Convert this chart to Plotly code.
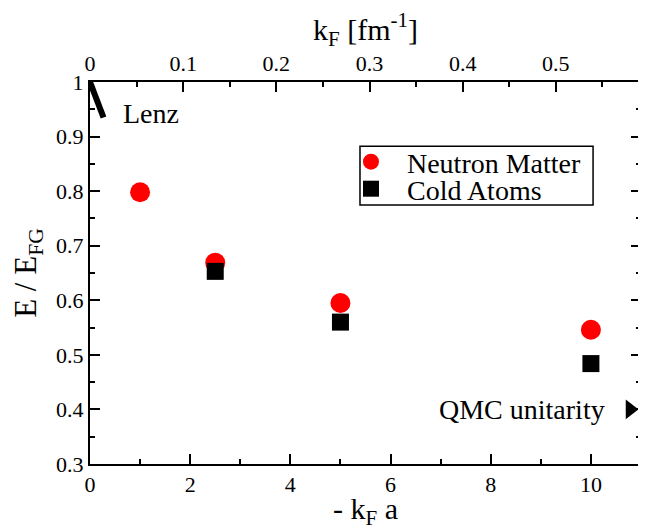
import plotly.graph_objects as go

# Data
nm_x = [1.0, 2.5, 5.0, 10.0]
nm_y = [0.798, 0.669, 0.595, 0.546]
ca_x = [2.5, 5.0, 10.0]
ca_y = [0.653, 0.560, 0.484]
lenz_x = [0.0, 0.27]
lenz_y = [1.0, 0.935]
qmc_x = [10.78]
qmc_y = [0.40]
scatt_len = 18.6  # fm, converts -kF a to kF
x_range = [0, 11]
y_range = [0.3, 1.0]

FONT = "Liberation Serif, Times New Roman, serif"
TICK = 22
TITLE = 30
LEG = 28

fig = go.Figure()
fig.add_trace(go.Scatter(x=lenz_x, y=lenz_y, mode="lines",
                         line=dict(color="black", width=6), showlegend=False))
fig.add_trace(go.Scatter(x=nm_x, y=nm_y, mode="markers", name="Neutron Matter", legend="legend",
                         marker=dict(symbol="circle", size=20, color="#ff0000")))
fig.add_trace(go.Scatter(x=ca_x, y=ca_y, mode="markers", name="Cold Atoms", legend="legend2",
                         marker=dict(symbol="square", size=17, color="black")))
fig.add_trace(go.Scatter(x=qmc_x, y=qmc_y, mode="markers", showlegend=False, cliponaxis=False,
                         marker=dict(symbol="triangle-right", size=17, color="black")))
# invisible trace for top axis
fig.add_trace(go.Scatter(x=[x_range[0] / scatt_len, x_range[1] / scatt_len], y=[None, None],
                         xaxis="x2", mode="lines", showlegend=False, hoverinfo="skip"))

axis_common = dict(showgrid=False, zeroline=False, showline=True, linecolor="black",
                   linewidth=2, ticks="inside", ticklen=10, tickwidth=2, tickcolor="black",
                   automargin=False,
                   tickfont=dict(family=FONT, size=TICK, color="black"))
minor_common = dict(ticks="inside", ticklen=5, tickwidth=2, tickcolor="black")
legend_common = dict(xanchor="left", yanchor="middle", borderwidth=0, bgcolor="rgba(0,0,0,0)",
                     font=dict(family=FONT, size=LEG), itemsizing="trace", itemwidth=62)

# page body has an 8px margin, so the figure is sized to fill the 646x530 window
fig.update_layout(
    width=638, height=522,
    margin=dict(l=82, r=5, t=74, b=66),
    paper_bgcolor="white", plot_bgcolor="white",
    font=dict(family=FONT, color="black"),
    xaxis=dict(range=x_range, dtick=2, tick0=0,
               minor=dict(dtick=1, **minor_common),
               title=dict(text="- k<sub>F</sub> a", font=dict(family=FONT, size=TITLE), standoff=1),
               **axis_common),
    xaxis2=dict(range=[x_range[0] / scatt_len, x_range[1] / scatt_len], overlaying="x", side="top",
                dtick=0.1, tick0=0, anchor="y",
                minor=dict(dtick=0.05, **minor_common),
                title=dict(text="k<sub>F</sub> [fm<sup>-1</sup>]", font=dict(family=FONT, size=TITLE), standoff=2),
                **axis_common),
    yaxis=dict(range=y_range, dtick=0.1, tick0=0, mirror="ticks",
               minor=dict(dtick=0.05, **minor_common),
               title=dict(text="E / E<sub>FG</sub>", font=dict(family=FONT, size=31), standoff=10),
               **axis_common),
    legend=dict(x=0.4446, y=0.7906, **legend_common),
    legend2=dict(x=0.4446, y=0.7199, **legend_common),
    shapes=[dict(type="rect", xref="paper", yref="paper", x0=0.49, x1=0.913, y0=0.678, y1=0.832,
                 line=dict(color="black", width=1.5), fillcolor="rgba(0,0,0,0)", layer="above")],
    annotations=[
        dict(x=0.62, y=0.943, xref="x", yref="y", text="Lenz", showarrow=False,
             xanchor="left", yanchor="middle", font=dict(family=FONT, size=28)),
        dict(x=10.32, y=0.40, xref="x", yref="y", text="QMC unitarity", showarrow=False,
             xanchor="right", yanchor="middle", font=dict(family=FONT, size=28)),
    ],
)

fig.write_html("out.html")
